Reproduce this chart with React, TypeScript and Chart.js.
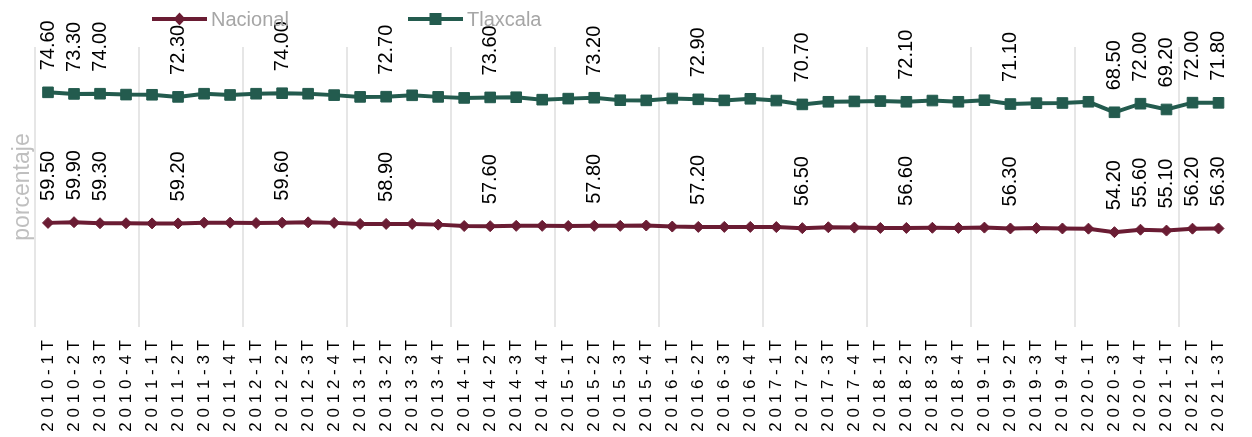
import { useEffect, useRef } from 'react';
import { Chart, registerables } from 'chart.js';

Chart.register(...registerables);

const categories = [
  '2010-1T', '2010-2T', '2010-3T', '2010-4T',
  '2011-1T', '2011-2T', '2011-3T', '2011-4T',
  '2012-1T', '2012-2T', '2012-3T', '2012-4T',
  '2013-1T', '2013-2T', '2013-3T', '2013-4T',
  '2014-1T', '2014-2T', '2014-3T', '2014-4T',
  '2015-1T', '2015-2T', '2015-3T', '2015-4T',
  '2016-1T', '2016-2T', '2016-3T', '2016-4T',
  '2017-1T', '2017-2T', '2017-3T', '2017-4T',
  '2018-1T', '2018-2T', '2018-3T', '2018-4T',
  '2019-1T', '2019-2T', '2019-3T', '2019-4T',
  '2020-1T', '2020-3T', '2020-4T',
  '2021-1T', '2021-2T', '2021-3T',
];

const nacional = [
  59.5, 59.9, 59.3, 59.3, 59.2, 59.2, 59.6, 59.6, 59.4, 59.6, 59.8, 59.5,
  58.9, 58.9, 58.9, 58.5, 57.7, 57.6, 57.8, 57.8, 57.7, 57.8, 57.8, 58.0,
  57.4, 57.2, 57.2, 57.2, 57.1, 56.5, 57.0, 56.8, 56.6, 56.6, 56.7, 56.6,
  56.8, 56.3, 56.5, 56.3, 56.2, 54.2, 55.6, 55.1, 56.2, 56.3,
];

const tlaxcala = [
  74.6, 73.3, 74.0, 73.5, 73.5, 72.3, 73.7, 73.0, 73.9, 74.0, 73.5, 73.0,
  72.6, 72.7, 73.5, 73.0, 73.2, 73.6, 73.5, 72.1, 72.8, 73.2, 71.8, 71.5,
  73.2, 72.9, 72.3, 73.2, 72.3, 70.7, 71.7, 72.1, 72.5, 72.1, 72.7, 72.1,
  72.8, 71.1, 71.4, 71.7, 72.5, 68.5, 72.0, 69.2, 72.0, 71.8,
];

// indices of the points that carry a value label
const labeledPoints = [0, 1, 2, 5, 9, 13, 17, 21, 25, 29, 33, 37, 41, 42, 43, 44, 45];

const seriesNames = ['Nacional', 'Tlaxcala'];
const seriesColors = ['#6A1C33', '#235B4E'];

const FONT = "'Liberation Sans', Arial, Helvetica, sans-serif";

export default function App() {
  const ref = useRef<HTMLCanvasElement>(null);

  useEffect(() => {
    if (!ref.current) return;

    const valueLabels = {
      id: 'valueLabels',
      afterDatasetsDraw(chart: any) {
        const ctx = chart.ctx;
        ctx.save();
        ctx.font = `20px ${FONT}`;
        ctx.fillStyle = '#000000';
        ctx.textAlign = 'left';
        ctx.textBaseline = 'middle';
        chart.data.datasets.forEach((ds: any, di: number) => {
          const meta = chart.getDatasetMeta(di);
          labeledPoints.forEach((i) => {
            const pt = meta.data[i];
            if (!pt) return;
            ctx.save();
            ctx.translate(pt.x, pt.y - 22);
            ctx.rotate(-Math.PI / 2);
            ctx.fillText(Number(ds.data[i]).toFixed(2), 0, 0);
            ctx.restore();
          });
        });
        ctx.restore();
      },
    };

    const legendSpots = [
      { x0: 152, x1: 207, tx: 211 },
      { x0: 408, x1: 463, tx: 467 },
    ];

    const customLegend = {
      id: 'customLegend',
      afterDraw(chart: any) {
        const ctx = chart.ctx;
        const y = 19;
        ctx.save();
        chart.data.datasets.forEach((ds: any, di: number) => {
          const s = legendSpots[di];
          const color = ds.borderColor;
          ctx.strokeStyle = color;
          ctx.lineWidth = 4;
          ctx.beginPath();
          ctx.moveTo(s.x0, y);
          ctx.lineTo(s.x1, y);
          ctx.stroke();
          const cx = (s.x0 + s.x1) / 2;
          ctx.fillStyle = color;
          ctx.beginPath();
          if (ds.pointStyle === 'rectRot') {
            ctx.moveTo(cx, y - 6.5);
            ctx.lineTo(cx + 6, y);
            ctx.lineTo(cx, y + 6.5);
            ctx.lineTo(cx - 6, y);
            ctx.closePath();
          } else {
            ctx.rect(cx - 6, y - 6, 12, 12);
          }
          ctx.fill();
          ctx.font = `20px ${FONT}`;
          ctx.fillStyle = '#A6A6A6';
          ctx.textAlign = 'left';
          ctx.textBaseline = 'middle';
          ctx.fillText(ds.label, s.tx, y + 1);
        });
        ctx.restore();
      },
    };

    const chart = new Chart(ref.current, {
      type: 'line',
      data: {
        labels: categories,
        datasets: [
          {
            label: seriesNames[0],
            data: nacional,
            borderColor: seriesColors[0],
            backgroundColor: seriesColors[0],
            borderWidth: 4,
            pointStyle: 'rectRot',
            pointRadius: 5.5,
            pointBorderWidth: 1,
            pointBackgroundColor: seriesColors[0],
            pointBorderColor: seriesColors[0],
            tension: 0,
            fill: false,
          },
          {
            label: seriesNames[1],
            data: tlaxcala,
            borderColor: seriesColors[1],
            backgroundColor: seriesColors[1],
            borderWidth: 4,
            pointStyle: 'rect',
            pointRadius: 7.5,
            pointBorderWidth: 1,
            pointBackgroundColor: seriesColors[1],
            pointBorderColor: seriesColors[1],
            tension: 0,
            fill: false,
          },
        ],
      },
      options: {
        animation: false,
        responsive: true,
        maintainAspectRatio: false,
        layout: { padding: { top: 47, right: 3, left: 0, bottom: 0 } },
        plugins: {
          legend: { display: false },
          tooltip: { enabled: false },
          title: { display: false },
        },
        scales: {
          x: {
            offset: true,
            grid: {
              offset: true,
              drawTicks: false,
              lineWidth: 2,
              color: (c: any) =>
                typeof c.index === 'number' && c.index % 4 === 0 ? '#E6E6E6' : 'rgba(0,0,0,0)',
            },
            border: { display: false },
            ticks: {
              autoSkip: false,
              maxRotation: 90,
              minRotation: 90,
              padding: 13,
              color: '#000000',
              font: { family: FONT, size: 17 },
              callback: (_v: any, i: number) => categories[i].split('').join(' '),
            },
            afterFit: (s: any) => {
              s.height = 110;
            },
          },
          y: {
            stacked: true,
            min: 0,
            max: 160,
            ticks: { display: false },
            grid: { display: false },
            border: { display: false },
            title: {
              display: true,
              text: 'porcentaje',
              color: '#BFBFBF',
              font: { family: FONT, size: 23 },
              padding: { top: 9, bottom: 0 },
            },
            afterFit: (s: any) => {
              s.width = 35;
            },
          },
        },
      },
      plugins: [valueLabels, customLegend],
    });

    return () => chart.destroy();
  }, []);

  return (
    <div style={{ position: 'fixed', left: 0, top: 0, width: 1252, height: 437, background: '#ffffff' }}>
      <canvas ref={ref} />
    </div>
  );
}
